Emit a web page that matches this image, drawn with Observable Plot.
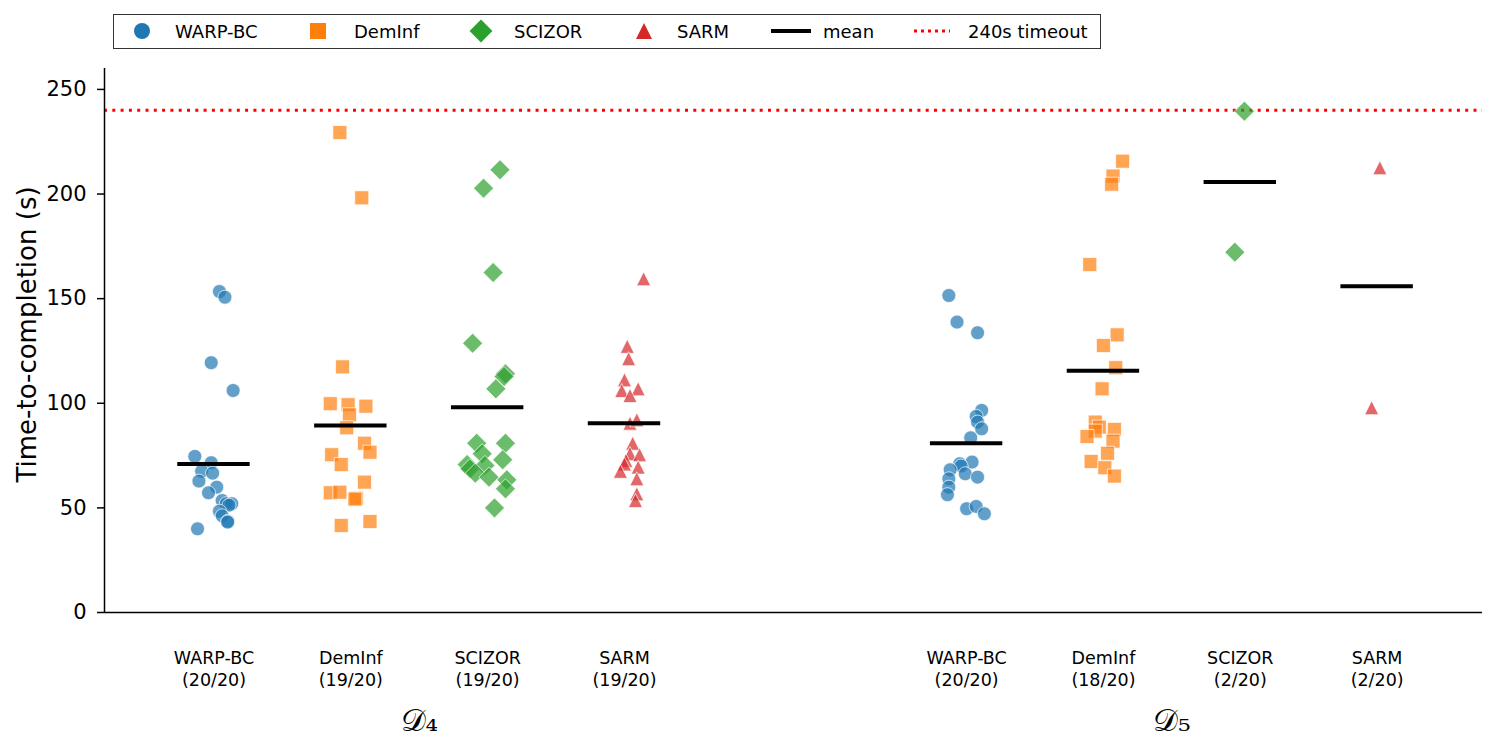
<!DOCTYPE html>
<html>
<head>
<meta charset="utf-8">
<script src="https://cdn.jsdelivr.net/npm/d3@7"></script>
<script src="https://cdn.jsdelivr.net/npm/@observablehq/plot@0.6"></script>
<style>
  body { margin: 0; background: #fff; font-family: "DejaVu Sans", sans-serif; color: #000; }
  #legend { position: relative; width: 1500px; height: 55px; }
  #legend .box { position: absolute; left: 113px; top: 14px; width: 988px; height: 35px;
                 box-sizing: border-box; border: 1.6px solid #333; background: #fff; }
  #legend .item { position: absolute; top: 0; height: 100%; display: flex; align-items: center; }
  #legend .label { font-size: 18px; white-space: nowrap; }
  #chart svg { display: block; }
</style>
</head>
<body>
<div id="legend"><div class="box"></div></div>
<div id="chart"></div>
<script>
// Methods, colours and per-dataset success counts
const methods = ["WARP-BC", "DemInf", "SCIZOR", "SARM"];
const colors = ["#1f77b4", "#ff7f0e", "#2ca02c", "#d62728"];
const datasets = ["𝒟₄", "𝒟₅"];
const successD4 = ["20/20", "19/20", "19/20", "19/20"];
const successD5 = ["20/20", "18/20", "2/20", "2/20"];
const timeout = 240;
const yTicks = [0, 50, 100, 150, 200, 250];

// Completion times in seconds, each paired with its horizontal jitter (in slot units)
const d4WarpBC = [[153.4, 0.04], [150.7, 0.08], [119.4, -0.02], [106.1, 0.14], [74.6, -0.14], [71.6, -0.02],
  [67.5, -0.09], [66.6, -0.01], [62.8, -0.11], [59.9, 0.02], [57.2, -0.04], [53.5, 0.06], [52.0, 0.09],
  [52.0, 0.13], [51.3, 0.11], [48.4, 0.04], [46.2, 0.06], [43.6, 0.10], [43.2, 0.10], [40.0, -0.12]];
const d4DemInf = [[229.4, -0.08], [198.2, 0.08], [117.4, -0.06], [99.8, -0.15], [99.3, -0.02], [98.6, 0.11],
  [94.5, -0.01], [88.3, -0.03], [80.9, 0.10], [76.6, 0.14], [75.4, -0.14], [70.7, -0.07], [62.3, 0.10],
  [57.2, -0.15], [57.5, -0.08], [54.6, 0.04], [54.2, 0.03], [43.5, 0.14], [41.6, -0.07]];
const d4Scizor = [[211.6, 0.09], [202.8, -0.03], [162.5, 0.04], [128.7, -0.11], [114.1, 0.13], [112.8, 0.12],
  [106.9, 0.06], [80.9, -0.08], [80.9, 0.13], [75.9, -0.04], [73.0, 0.11], [70.7, -0.15], [68.7, -0.13],
  [70.3, -0.02], [66.6, -0.09], [64.7, 0.01], [63.4, 0.14], [59.1, 0.13], [50.0, 0.05]];
const d4Sarm = [[159.5, 0.14], [127.2, 0.02], [121.3, 0.03], [111.2, 0.00], [106.1, -0.02], [106.9, 0.10],
  [103.7, 0.04], [90.5, 0.04], [92.1, 0.09], [80.9, 0.06], [75.9, 0.04], [75.4, 0.11], [72.7, 0.01],
  [71.0, 0.00], [69.5, 0.10], [67.5, -0.03], [63.9, 0.09], [56.7, 0.09], [53.5, 0.08]];
const d5WarpBC = [[151.5, -0.13], [138.8, -0.07], [133.7, 0.08], [96.6, 0.11], [93.7, 0.07], [91.0, 0.08],
  [87.8, 0.11], [83.5, 0.03], [71.9, 0.04], [71.1, -0.05], [70.0, -0.04], [68.2, -0.12], [66.3, -0.01],
  [64.7, 0.08], [63.9, -0.13], [59.9, -0.13], [56.3, -0.14], [49.6, 0.00], [50.7, 0.07], [47.2, 0.13]];
const d5DemInf = [[215.7, 0.14], [208.6, 0.07], [204.7, 0.06], [166.3, -0.10], [132.7, 0.10], [127.6, 0.00],
  [117.0, 0.09], [106.9, -0.01], [91.0, -0.06], [88.6, -0.03], [86.7, -0.06], [87.5, 0.08], [84.1, -0.12],
  [81.9, 0.07], [76.1, 0.03], [72.2, -0.09], [69.2, 0.01], [65.2, 0.08]];
const d5Scizor = [[239.6, 0.03], [172.2, -0.04]];
const d5Sarm = [[212.6, 0.02], [97.9, -0.04]];

// Mean completion time of successful runs
const meansD4 = [71.0, 89.4, 98.1, 90.5];
const meansD5 = [80.9, 115.5, 205.7, 155.9];

// Slot layout: four methods per dataset, with a gap between datasets
const slot = (d, i) => (d === 0 ? 0 : 5.5) + i;

// Marker shapes drawn as symbol objects (size = πr²)
const rOf = size => Math.sqrt(size / Math.PI);
const shapes = [
  { draw(c, s) { const r = rOf(s); c.moveTo(r, 0); c.arc(0, 0, r, 0, 2 * Math.PI); c.closePath(); } },
  { draw(c, s) { const r = rOf(s); c.rect(-r, -r, 2 * r, 2 * r); } },
  { draw(c, s) { const h = rOf(s) * 10 / 7; c.moveTo(0, -h); c.lineTo(h, 0); c.lineTo(0, h); c.lineTo(-h, 0); c.closePath(); } },
  { draw(c, s) { const r = rOf(s); c.moveTo(0, -r); c.lineTo(r, r); c.lineTo(-r, r); c.closePath(); } }
];

const series = [[d4WarpBC, d4DemInf, d4Scizor, d4Sarm], [d5WarpBC, d5DemInf, d5Scizor, d5Sarm]];
const points = [];
series.forEach((group, d) => group.forEach((rows, i) => rows.forEach(([t, j]) =>
  points.push({ method: i, x: slot(d, i) + j, t }))));

const means = [];
[meansD4, meansD5].forEach((m, d) => m.forEach((v, i) => means.push({ x: slot(d, i), v })));

const tickLabels = new Map();
[successD4, successD5].forEach((s, d) => s.forEach((n, i) => tickLabels.set(slot(d, i), `${methods[i]}\n(${n})`)));
const groupLabels = new Map([[1.5, datasets[0]], [7, datasets[1]]]);

const xDomain = [-0.8, 9.27];

const chart = Plot.plot({
  width: 1500,
  height: 698,
  marginTop: 13,
  marginBottom: 141,
  marginLeft: 104,
  marginRight: 18,
  style: { fontFamily: "DejaVu Sans, sans-serif", fontSize: "17.5px", color: "#000", background: "#fff", overflow: "visible" },
  x: { domain: xDomain },
  y: { domain: [0, 260] },
  marks: [
    Plot.ruleY([timeout], { stroke: "#ff0000", strokeWidth: 3, strokeDasharray: "3,5.3" }),
    ...methods.map((m, i) => Plot.dot(points.filter(p => p.method === i), {
      x: "x", y: "t", r: 7, symbol: shapes[i],
      fill: colors[i], fillOpacity: 0.7, stroke: "#fff", strokeOpacity: 0.7, strokeWidth: 1
    })),
    Plot.ruleY(means, { y: "v", x1: d => d.x - 0.25, x2: d => d.x + 0.25, stroke: "#000", strokeWidth: 4, strokeLinecap: "square" }),
    Plot.ruleX([xDomain[0]], { stroke: "#000", strokeWidth: 1.5 }),
    Plot.ruleY([0], { stroke: "#000", strokeWidth: 1.5 }),
    Plot.axisY({ ticks: yTicks, tickSize: 7, tickPadding: 11, strokeWidth: 1.5, fontSize: 21, label: null }),
    Plot.axisX({ ticks: [...tickLabels.keys()], tickFormat: v => tickLabels.get(v), tickSize: 0, tickPadding: 36,
      lineHeight: 1.25, fontSize: 17.5, label: null }),
    Plot.axisX({ ticks: [...groupLabels.keys()], tickFormat: v => groupLabels.get(v), tickSize: 0, tickPadding: 96,
      fontSize: 31, fontFamily: "DejaVu Serif, serif", label: null }),
    Plot.text(["Time-to-completion (s)"], { text: d => d, frameAnchor: "left", textAnchor: "middle", rotate: -90,
      dx: -77, dy: -6, fontSize: 26 })
  ]
});
document.getElementById("chart").appendChild(chart);

// Legend row above the chart
const box = document.querySelector("#legend .box");
const svgNS = "http://www.w3.org/2000/svg";
function addItem(left, drawMarker, labelLeft, text) {
  const m = document.createElementNS(svgNS, "svg");
  m.setAttribute("width", 48); m.setAttribute("height", 32);
  m.style.position = "absolute"; m.style.left = (left - 24) + "px"; m.style.top = "0px";
  drawMarker(m);
  box.appendChild(m);
  const l = document.createElement("div");
  l.className = "item label"; l.style.left = labelLeft + "px"; l.textContent = text;
  box.appendChild(l);
}
const legendMarkerX = [28, 204, 367, 530];
const legendLabelX = [61, 240, 400, 563];
methods.forEach((name, i) => addItem(legendMarkerX[i], svg => {
  const p = document.createElementNS(svgNS, "path");
  const ctx = d3.path(); shapes[i].draw(ctx, Math.PI * 8 * 8);
  p.setAttribute("d", ctx.toString()); p.setAttribute("transform", "translate(24,16)");
  p.setAttribute("fill", colors[i]);
  svg.appendChild(p);
}, legendLabelX[i], name));
addItem(677, svg => {
  const l = document.createElementNS(svgNS, "line");
  l.setAttribute("x1", 4); l.setAttribute("x2", 44); l.setAttribute("y1", 16); l.setAttribute("y2", 16);
  l.setAttribute("stroke", "#000"); l.setAttribute("stroke-width", 4);
  svg.appendChild(l);
}, 709, "mean");
addItem(818, svg => {
  const l = document.createElementNS(svgNS, "line");
  l.setAttribute("x1", 6); l.setAttribute("x2", 42); l.setAttribute("y1", 16); l.setAttribute("y2", 16);
  l.setAttribute("stroke", "#ff0000"); l.setAttribute("stroke-width", 3); l.setAttribute("stroke-dasharray", "3,4");
  svg.appendChild(l);
}, 854, "240s timeout");
</script>
</body>
</html>
